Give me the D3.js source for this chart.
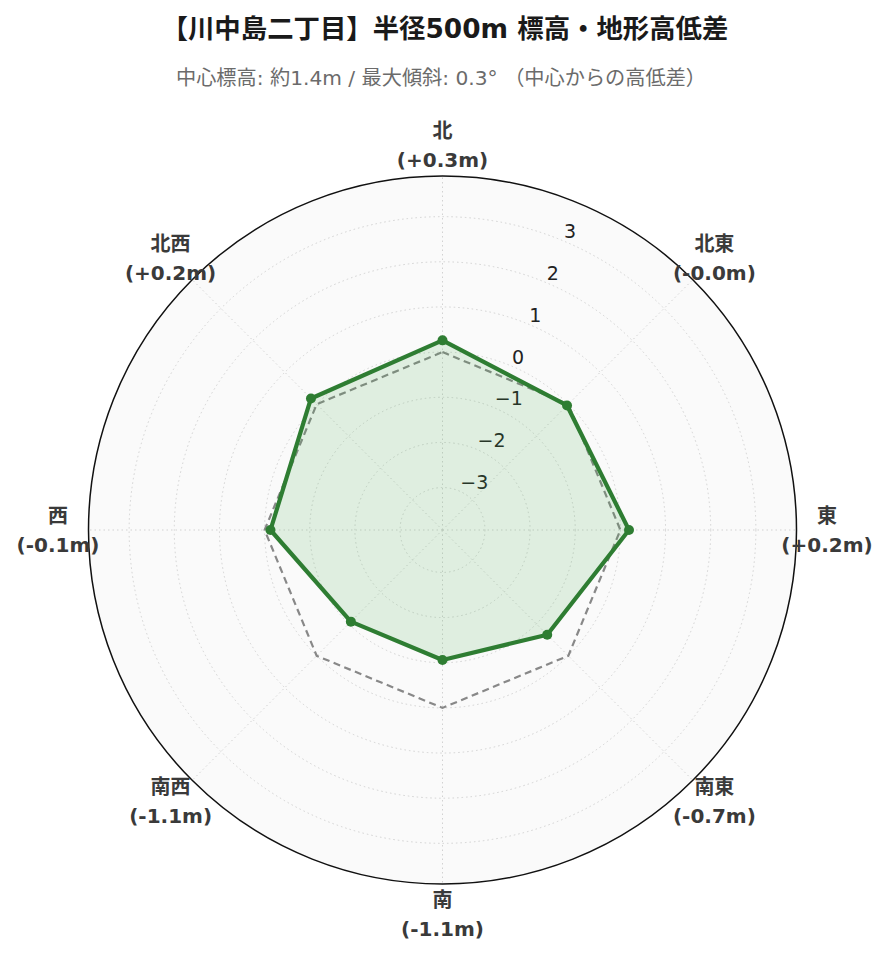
<!DOCTYPE html>
<html><head><meta charset="utf-8">
<script src="https://cdn.jsdelivr.net/npm/d3@7"></script>
<style>html,body{margin:0;padding:0;background:#fff;}svg{display:block;}</style>
</head><body>
<svg id="chart" width="889" height="962"></svg>
<script>
// ---- data ----
const directions = ["北", "北東", "東", "南東", "南", "南西", "西", "北西"];
const elevationDiff = [0.26, -0.04, 0.19, -0.66, -1.06, -1.07, -0.13, 0.18];
const referenceLine = [0, 0, 0, 0, 0, 0, 0, 0];
const radialTicks = [-3, -2, -1, 0, 1, 2, 3];
const radialRange = [-3.94, 3.9];
const titleText = "【川中島二丁目】半径500m 標高・地形高低差";
const subtitleText = "中心標高: 約1.4m / 最大傾斜: 0.3° （中心からの高低差）";

// ---- layout ----
const W = 889, H = 962;
const cx = 442.5, cy = 530, R = 354;
const FONT = "'DejaVu Sans', 'Noto Sans CJK JP', sans-serif";
const svg = d3.select("#chart");

const r = d3.scaleLinear().domain(radialRange).range([0, R]);
const ang = d3.scaleLinear().domain([0, directions.length]).range([0, 2 * Math.PI]);
const pt = (i, v) => [cx + r(v) * Math.sin(ang(i)), cy - r(v) * Math.cos(ang(i))];

// title
svg.append("text").attr("x", 445).attr("y", 37.5).attr("text-anchor", "middle")
  .attr("font-family", FONT).attr("font-weight", "bold").attr("font-size", 26.4)
  .attr("fill", "#1a1a1a").text(titleText);
svg.append("text").attr("x", 441).attr("y", 84.5).attr("text-anchor", "middle")
  .attr("font-family", FONT).attr("font-size", 20.2)
  .attr("fill", "#6b6b6b").text(subtitleText);

// polar background
svg.append("circle").attr("cx", cx).attr("cy", cy).attr("r", R).attr("fill", "#fafafa");

// grid circles
const g = svg.append("g");
g.selectAll("circle.grid").data(radialTicks).join("circle")
  .attr("cx", cx).attr("cy", cy).attr("r", d => r(d))
  .attr("fill", "none").attr("stroke", "#d2d2d2").attr("stroke-width", 1)
  .attr("stroke-dasharray", "1.5,3");
// spokes
g.selectAll("line.spoke").data(directions).join("line")
  .attr("x1", cx).attr("y1", cy)
  .attr("x2", (d, i) => pt(i, radialRange[1])[0])
  .attr("y2", (d, i) => pt(i, radialRange[1])[1])
  .attr("stroke", "#d2d2d2").attr("stroke-width", 1).attr("stroke-dasharray", "1.5,3");

// outer circle
svg.append("circle").attr("cx", cx).attr("cy", cy).attr("r", R)
  .attr("fill", "none").attr("stroke", "#111").attr("stroke-width", 1.5);

// radial tick labels along 22.5°
const tickAng = Math.PI / 8;
svg.selectAll("text.rt").data(radialTicks).join("text")
  .attr("x", d => cx + r(d) * Math.sin(tickAng) + 1.5)
  .attr("y", d => cy - r(d) * Math.cos(tickAng) - 9)
  .attr("dominant-baseline", "central").attr("text-anchor", "start")
  .attr("font-family", FONT).attr("font-size", 19).attr("fill", "#222")
  .text(d => d < 0 ? "\u2212" + Math.abs(d) : String(d));

// reference dashed line
const lineGen = d3.line().curve(d3.curveLinearClosed);
svg.append("path")
  .attr("d", lineGen(referenceLine.map((v, i) => pt(i, v))))
  .attr("fill", "none").attr("stroke", "#888").attr("stroke-width", 2.2)
  .attr("stroke-dasharray", "7,4.5");

// data polygon
svg.append("path")
  .attr("d", lineGen(elevationDiff.map((v, i) => pt(i, v))))
  .attr("fill", "rgba(76,175,80,0.15)").attr("stroke", "#2e7d32")
  .attr("stroke-width", 4.2).attr("stroke-linejoin", "round");
svg.selectAll("circle.pt").data(elevationDiff).join("circle")
  .attr("cx", (d, i) => pt(i, d)[0]).attr("cy", (d, i) => pt(i, d)[1])
  .attr("r", 5).attr("fill", "#2e7d32");

// angular labels
const fmt = v => (v >= 0 ? "+" : "-") + Math.abs(v).toFixed(1) + "m";
const labR = 384.5;
const lab = svg.selectAll("text.al").data(directions).join("text")
  .attr("text-anchor", "middle").attr("font-family", FONT)
  .attr("font-weight", "bold").attr("font-size", 20).attr("fill", "#3a3a3a");
lab.each(function (d, i) {
  const x = cx + labR * Math.sin(ang(i));
  const y = cy - labR * Math.cos(ang(i));
  const t = d3.select(this);
  t.append("tspan").attr("x", x).attr("y", y - 14.5).attr("dominant-baseline", "central").text(d);
  t.append("tspan").attr("x", x).attr("y", y + 14.5).attr("dominant-baseline", "central").text("(" + fmt(elevationDiff[i]) + ")");
});
</script>
</body></html>
